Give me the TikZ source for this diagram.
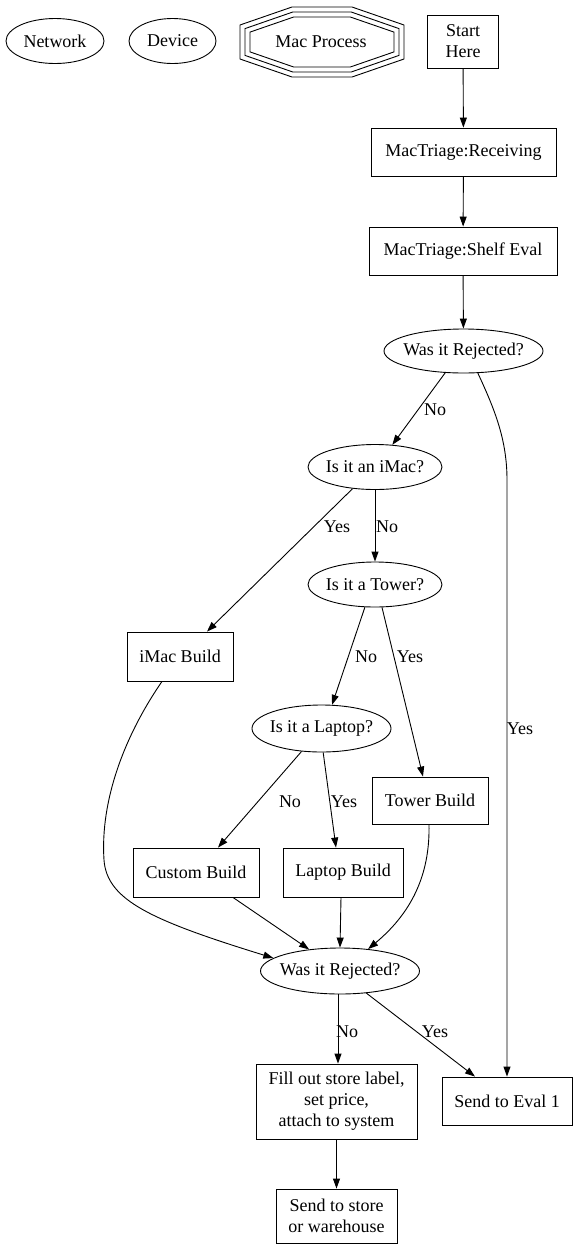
\documentclass[tikz,border=0pt]{standalone}
\usepackage{fontspec}
\setmainfont{Liberation Serif}
\usetikzlibrary{shapes.geometric,arrows.meta}
\newcommand{\ztext}[1]{\makebox[0pt][c]{#1}}
\begin{document}
\begin{tikzpicture}[x=1pt,y=-1pt,
  font=\fontsize{18}{21}\selectfont,
  line width=0.9pt,
  sz/.style 2 args={minimum width=#1pt, minimum height=#2pt},
  box/.style={draw, rectangle, inner sep=0pt, align=center},
  oval/.style={draw, ellipse, inner sep=0pt},
  lbl/.style={inner sep=0pt},
  arr/.style={-{Triangle[length=10pt,width=7pt]}},
  oct/.style={line width=0.9pt}]
\fill[white] (0,0) rectangle (577,1248);
\useasboundingbox (0,0) rectangle (577,1248);

% legend
\node[oval, sz={98}{45}] (net) at (55,41) {\ztext{Network}};
\node[oval, sz={87}{45}] (dev) at (172.5,41) {\ztext{Device}};
\draw[oct] (292,7) -- (352,7) -- (404,25) -- (404,59) -- (352,77) -- (292,77) -- (240,59) -- (240,25) -- cycle;
\draw[oct] (292.8,12) -- (351.2,12) -- (399,28.6) -- (399,55.4) -- (351.2,72) -- (292.8,72) -- (245,55.4) -- (245,28.6) -- cycle;
\draw[oct] (293.7,17) -- (350.3,17) -- (394,32.1) -- (394,51.9) -- (350.3,67) -- (293.7,67) -- (250,51.9) -- (250,32.1) -- cycle;
\node[lbl] (mac) at (321,42) {Mac Process};

% main flow
\node[box, sz={71}{53}] (start) at (463,41.5) {Start\\Here};
\node[box, sz={185}{48}] (recv) at (463.5,152) {MacTriage:Receiving};
\node[box, sz={188}{48}] (shelf) at (463,251) {MacTriage:Shelf Eval};
\node[oval, sz={159}{44}] (rej1) at (463.5,351) {\ztext{Was it Rejected?}};
\node[oval, sz={134}{45}] (imac) at (375,467) {\ztext{Is it an iMac?}};
\node[oval, sz={134}{45}] (tower) at (375,584.5) {\ztext{Is it a Tower?}};
\node[box, sz={106}{49}] (imacb) at (180,656.5) {iMac Build};
\node[oval, sz={139}{47}] (laptop) at (321.5,728.5) {\ztext{Is it a Laptop?}};
\node[box, sz={116}{47}] (towerb) at (430,800.5) {Tower Build};
\node[box, sz={126}{49}] (custom) at (196,872.5) {Custom Build};
\node[box, sz={120}{49}] (laptopb) at (343,872.5) {Laptop Build};
\node[oval, sz={159}{46}] (rej2) at (340,971) {\ztext{Was it Rejected?}};
\node[box, sz={161}{75}] (fill) at (336.5,1101.5) {Fill out store label,\\set price,\\attach to system};
\node[box, sz={130}{48}] (eval) at (507,1101) {Send to Eval 1};
\node[box, sz={121}{54}] (store) at (336.5,1216) {Send to store\\or warehouse};

% edges
\draw[arr] (start) -- (recv);
\draw[arr] (recv) -- (shelf);
\draw[arr] (shelf) -- (rej1);
\draw[arr] (rej1.230) -- (imac.52);
\draw[arr] (rej1.303) .. controls (495,410) and (507,440) .. (507,480) -- (eval.north);
\draw[arr] (imac.224) -- ([xshift=27pt]imacb.north);
\draw[arr] (imac) -- (tower);
\draw[arr] (tower.246) -- (laptop.66);
\draw[arr] (tower.287) -- ([xshift=-7pt]towerb.north);
\draw[arr] (laptop.229) -- ([xshift=22pt]custom.north);
\draw[arr] (laptop.274) -- ([xshift=-7pt]laptopb.north);
\draw[arr] ([xshift=-18pt]imacb.south) .. controls (125,735) and (100,800) .. (104,860) .. controls (107,900) and (150,920) .. (rej2.169);
\draw[arr] ([xshift=37pt]custom.south) -- (rej2.145);
\draw[arr] ([xshift=-2pt]laptopb.south) -- (rej2.north);
\draw[arr] ([xshift=-1pt]towerb.south) .. controls (430,870) and (415,910) .. (rej2.38);
\draw[arr] ([xshift=-2pt]rej2.south) -- ([xshift=1.5pt]fill.north);
\draw[arr] (rej2.320) -- ([xshift=-32pt]eval.north);
\draw[arr] (fill) -- (store);

% edge labels
\node[lbl] (l1) at (435,410) {No};
\node[lbl] (l2) at (520,729) {Yes};
\node[lbl] (l3) at (337,527) {Yes};
\node[lbl] (l4) at (387,527) {No};
\node[lbl] (l5) at (366,657) {No};
\node[lbl] (l6) at (410,657) {Yes};
\node[lbl] (l7) at (290,802) {No};
\node[lbl] (l8) at (344,802) {Yes};
\node[lbl] (l9) at (347,1032) {No};
\node[lbl] (l10) at (435,1032) {Yes};
\end{tikzpicture}
\end{document}
